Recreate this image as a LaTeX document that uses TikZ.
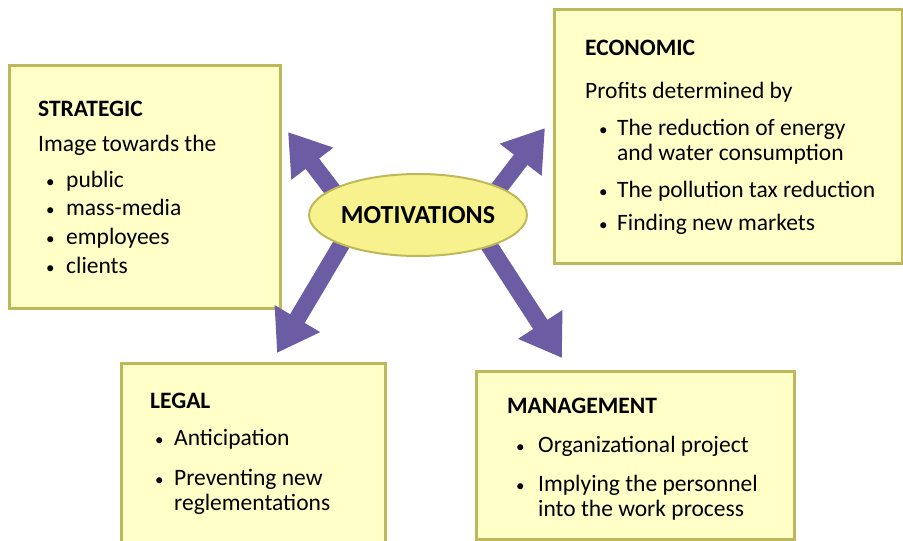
\documentclass[tikz,border=0pt]{standalone}
\usepackage{fontspec}
\setmainfont{Carlito}
\usepackage{tikz}
\usetikzlibrary{arrows.meta,shapes.geometric}

\definecolor{panelfill}{HTML}{FFFFC8}
\definecolor{panelline}{HTML}{BFB85A}
\definecolor{hubfill}{HTML}{F7F28E}
\definecolor{pushcol}{HTML}{6B5CA3}

\begin{document}
\begin{tikzpicture}[x=1pt, y=-1pt, every node/.style = {inner sep=0pt, anchor=base west,
          font=\fontsize{23.5}{27}\selectfont}]
          \tikzstyle{panel}=[draw=panelline, fill=panelfill, line width=2.5pt, anchor=north west]
          \tikzstyle{head}=[font=\fontsize{23.5}{27}\selectfont\bfseries]
          \tikzstyle{dot}=[font=\fontsize{17}{20}\selectfont]
          \tikzstyle{push}=[draw=pushcol, line width=17pt, -{Triangle[width=50pt,length=40pt]}]
        \useasboundingbox (0,0) rectangle (903,541);

        % the four panels
        \node[panel, minimum width=271, minimum height=243] (strategic) at (8,64) {};
        \node[panel, minimum width=348, minimum height=254] (economic) at (553,8) {};
        \node[panel, minimum width=264, minimum height=190] (legal) at (120,362) {};
        \node[panel, minimum width=318, minimum height=168] (management) at (475,370) {};

        % arrows out of the centre
        \coordinate (ul tail) at (344,205);  \coordinate (ul tip) at (288,132);
        \coordinate (ur tail) at (486,205);  \coordinate (ur tip) at (545,128);
        \coordinate (ll tail) at (350,230);  \coordinate (ll tip) at (277,353);
        \coordinate (lr tail) at (479,230);  \coordinate (lr tip) at (562,358);
        \draw[push] (ul tail) -- (ul tip);
        \draw[push] (ur tail) -- (ur tip);
        \draw[push] (ll tail) -- (ll tip);
        \draw[push] (lr tail) -- (lr tip);

        \node[ellipse, draw=panelline, fill=hubfill, line width=2pt, anchor=center,
              minimum width=197, minimum height=82,
              font=\fontsize{26}{30}\selectfont\bfseries] (hub) at (418,215) {MOTIVATIONS};

        % strategic
        \node[head] (s0) at (38,116) {STRATEGIC};
        \node (s1) at (38,151) {Image towards the};
        \node[dot] (sb1) at (46,187) {\textbullet};  \node (s2) at (66,187) {public};
        \node[dot] (sb2) at (46,215) {\textbullet};  \node (s3) at (66,215) {mass-media};
        \node[dot] (sb3) at (46,244) {\textbullet};  \node (s4) at (66,244) {employees};
        \node[dot] (sb4) at (46,273) {\textbullet};  \node (s5) at (66,273) {clients};

        % economic
        \node[head] (e0) at (585,55) {ECONOMIC};
        \node (e1) at (585,98) {Profits determined by};
        \node[dot] (eb1) at (599,135) {\textbullet};  \node (e2) at (617,135) {The reduction of energy};
        \node (e3) at (617,160) {and water consumption};
        \node[dot] (eb2) at (599,197) {\textbullet};  \node (e4) at (617,197) {The pollution tax reduction};
        \node[dot] (eb3) at (599,230) {\textbullet};  \node (e5) at (617,230) {Finding new markets};

        % legal
        \node[head] (l0) at (150,408) {LEGAL};
        \node[dot] (lb1) at (155,445) {\textbullet};  \node (l1) at (174,445) {Anticipation};
        \node[dot] (lb2) at (155,485) {\textbullet};  \node (l2) at (174,485) {Preventing new};
        \node (l3) at (174,510) {reglementations};

        % management
        \node[head] (m0) at (507,413) {MANAGEMENT};
        \node[dot] (mb1) at (516,452) {\textbullet};  \node (m1) at (538,452) {Organizational project};
        \node[dot] (mb2) at (516,491) {\textbullet};  \node (m2) at (538,491) {Implying the personnel};
        \node (m3) at (538,516) {into the work process};
      \end{tikzpicture}
\end{document}
